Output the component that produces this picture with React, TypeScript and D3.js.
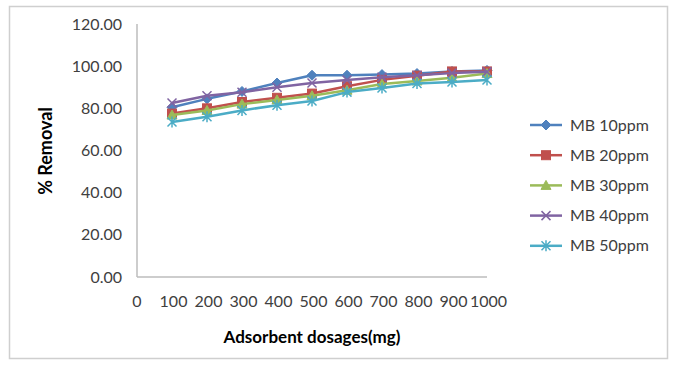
import React from "react";
import * as d3 from "d3";

const dosages = [100, 200, 300, 400, 500, 600, 700, 800, 900, 1000];
const xTicks = [0, 100, 200, 300, 400, 500, 600, 700, 800, 900, 1000];
const yTicks = [0, 20, 40, 60, 80, 100, 120];

const mb10 = [80.5, 84.5, 88, 92, 95.7, 95.7, 96, 96.5, 97.5, 98];
const mb20 = [77.5, 80, 83, 85, 87, 90.5, 93.5, 95.5, 97.5, 97.5];
const mb30 = [76.8, 79, 82, 84, 86, 88.6, 91.5, 93, 94.5, 96.5];
const mb40 = [82.5, 86, 87.6, 90, 92, 93.4, 94.8, 95.7, 96.7, 97.3];
const mb50 = [73.5, 76, 79, 81.5, 83.5, 87.7, 89.6, 91.8, 92.5, 93.4];

const seriesNames = ["MB 10ppm", "MB 20ppm", "MB 30ppm", "MB 40ppm", "MB 50ppm"];
const seriesValues = [mb10, mb20, mb30, mb40, mb50];
const colors = ["#4F81BD", "#C0504D", "#9BBB59", "#8064A2", "#4BACC6"];
const markers = ["diamond", "square", "triangle", "x", "star"];

const W = 677;
const H = 365;
const x = d3.scaleLinear().domain([0, 1000]).range([137, 487]);
const y = d3.scaleLinear().domain([0, 120]).range([277, 24]);
const font = "Lato, 'Open Sans', sans-serif";

function Marker({ type, cx, cy, color }: { type: string; cx: number; cy: number; color: string }) {
  if (type === "diamond") {
    const s = 5;
    return <path d={`M${cx},${cy - s}L${cx + s},${cy}L${cx},${cy + s}L${cx - s},${cy}Z`} fill={color} stroke={color} />;
  }
  if (type === "square") {
    return <rect x={cx - 4.5} y={cy - 4.5} width={9} height={9} fill={color} stroke={color} />;
  }
  if (type === "triangle") {
    const s = 5;
    return <path d={`M${cx},${cy - s}L${cx + s},${cy + s * 0.8}L${cx - s},${cy + s * 0.8}Z`} fill={color} stroke={color} />;
  }
  if (type === "x") {
    const s = 4.5;
    return (
      <path d={`M${cx - s},${cy - s}L${cx + s},${cy + s}M${cx - s},${cy + s}L${cx + s},${cy - s}`} stroke={color} strokeWidth={1.5} fill="none" />
    );
  }
  const s = 4.5;
  return (
    <path
      d={`M${cx - s},${cy - s}L${cx + s},${cy + s}M${cx - s},${cy + s}L${cx + s},${cy - s}M${cx},${cy - s - 1}L${cx},${cy + s + 1}`}
      stroke={color}
      strokeWidth={1.5}
      fill="none"
    />
  );
}

export default function App() {
  const line = d3
    .line<number>()
    .x((_, i) => x(dosages[i]))
    .y((d) => y(d));

  const legendY0 = 125;
  const legendStep = 30.2;

  return (
    <svg
      width={W}
      height={H}
      style={{ position: "absolute", left: 0, top: 0, display: "block", background: "#fff" }}
    >
      <rect x={9.5} y={6.5} width={658} height={352} fill="#fff" stroke="#cfcfcf" strokeWidth={1.5} />

      {/* axes */}
      <line x1={x(0)} x2={x(0)} y1={y(120)} y2={y(0)} stroke="#bdbdbd" strokeWidth={1.5} />
      <line x1={x(0)} x2={x(1000)} y1={y(0)} y2={y(0)} stroke="#bdbdbd" strokeWidth={1.5} />

      {yTicks.map((t) => (
        <text key={t} x={122} y={y(t)} dy="0.35em" textAnchor="end" fontFamily={font} fontSize={16} fill="#404040">
          {t.toFixed(2)}
        </text>
      ))}
      {xTicks.map((t) => (
        <text key={t} x={x(t) + (t === 0 ? 0 : 1.5)} y={301} dy="0.35em" textAnchor="middle" fontFamily={font} fontSize={16} fill="#404040">
          {t}
        </text>
      ))}

      <text x={312} y={337} dy="0.35em" textAnchor="middle" fontFamily={font} fontSize={17} fontWeight="bold" fill="#000">
        Adsorbent dosages(mg)
      </text>
      <text
        transform={`translate(46,151) rotate(-90)`}
        dy="0.35em"
        textAnchor="middle"
        fontFamily={font}
        fontSize={18}
        fontWeight="bold"
        fill="#000"
      >
        % Removal
      </text>

      {seriesValues.map((vals, si) => (
        <g key={si}>
          <path d={line(vals) || ""} fill="none" stroke={colors[si]} strokeWidth={2.5} strokeLinejoin="round" />
          {vals.map((v, i) => (
            <Marker key={i} type={markers[si]} cx={x(dosages[i])} cy={y(v)} color={colors[si]} />
          ))}
        </g>
      ))}

      {seriesNames.map((n, si) => {
        const ly = legendY0 + si * legendStep;
        return (
          <g key={n}>
            <line x1={530} x2={562} y1={ly} y2={ly} stroke={colors[si]} strokeWidth={2.5} />
            <Marker type={markers[si]} cx={546} cy={ly} color={colors[si]} />
            <text x={570} y={ly} dy="0.35em" fontFamily={font} fontSize={16} fill="#404040">
              {n}
            </text>
          </g>
        );
      })}
    </svg>
  );
}
